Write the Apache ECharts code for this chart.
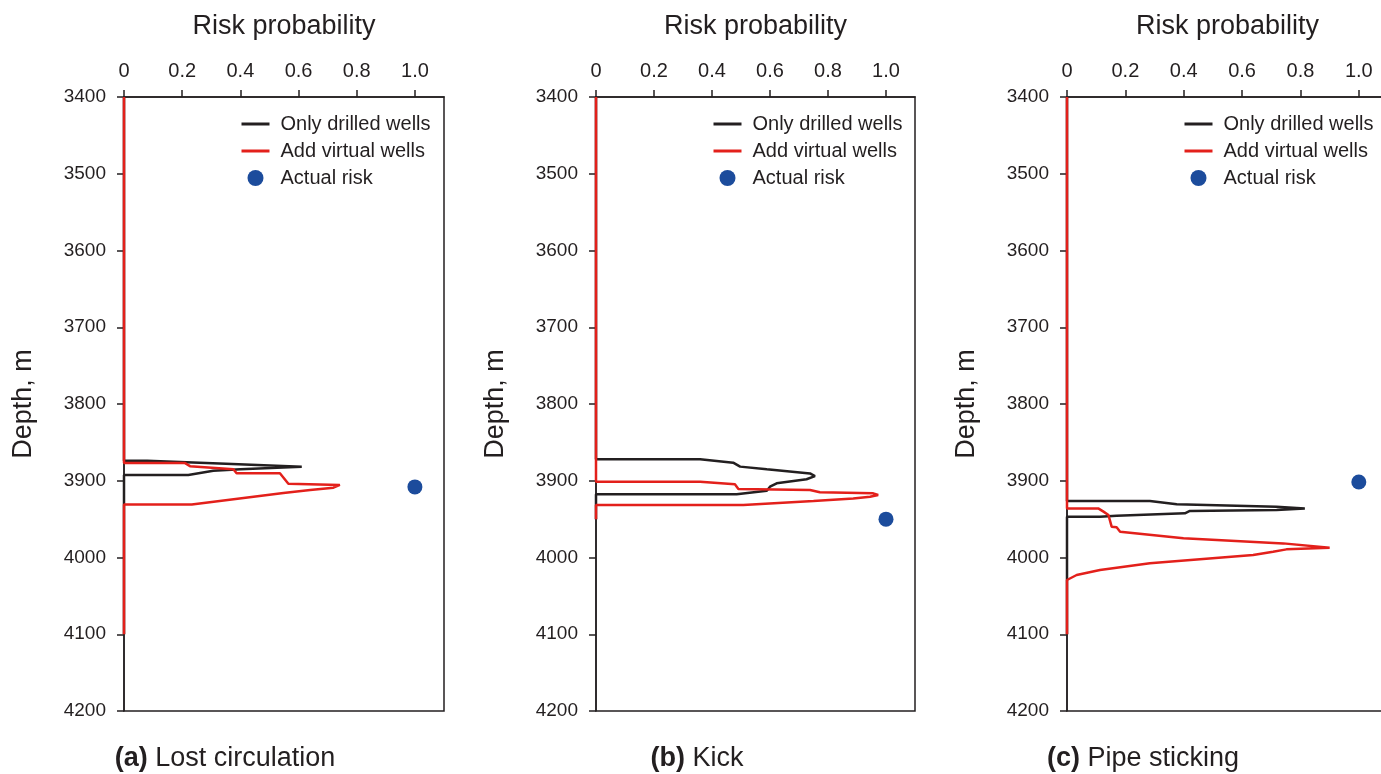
<!DOCTYPE html>
<html lang="en">
<head>
    <meta charset="UTF-8">
    <title>Risk probability</title>
    <script src="https://cdn.jsdelivr.net/npm/echarts@6.0.0/dist/echarts.min.js"></script>
    <style>
        body { margin: 0; background: #fff; }
        #chart { width: 1381px; height: 774px; }
    </style>
</head>
<body>
    <div id="chart"></div>
    <script>
        // [probability, depth] pairs
        const drilledA = [[0, 3400], [0, 3874], [0.08, 3874], [0.35, 3878], [0.611, 3881.6], [0.40, 3885], [0.307, 3887], [0.221, 3892.5], [0, 3892.5], [0, 4100]];
        const virtualA = [[0, 3400], [0, 3877], [0.21, 3877], [0.227, 3881], [0.376, 3885], [0.387, 3890.3], [0.536, 3890.3], [0.565, 3904], [0.742, 3905.5], [0.72, 3909], [0.64, 3912], [0.548, 3916], [0.233, 3931], [0, 3931], [0, 4100]];
        const actualA = [[1.0, 3908]];

        const drilledB = [[0, 3400], [0, 3872], [0.359, 3872], [0.473, 3876.4], [0.497, 3881.6], [0.589, 3885], [0.738, 3890.4], [0.755, 3894], [0.726, 3898], [0.623, 3903.4], [0.6, 3907.7], [0.589, 3913], [0.485, 3917.7], [0, 3917.7], [0, 3950]];
        const virtualB = [[0, 3400], [0, 3901.2], [0.359, 3901.2], [0.479, 3904.7], [0.491, 3910.8], [0.738, 3912], [0.772, 3915], [0.956, 3916.4], [0.973, 3918.6], [0.945, 3920.8], [0.887, 3923], [0.75, 3926.4], [0.508, 3931.6], [0, 3931.6], [0, 3950]];
        const actualB = [[1.0, 3950]];

        const drilledC = [[0, 3400], [0, 3926.4], [0.284, 3926.4], [0.376, 3930.7], [0.718, 3933.8], [0.815, 3936], [0.718, 3938.1], [0.421, 3939.4], [0.404, 3942.4], [0.17, 3945.5], [0.113, 3946.8], [0, 3946.8], [0, 4100]];
        const virtualC = [[0, 3400], [0, 3936], [0.107, 3936], [0.125, 3940.2], [0.142, 3944.6], [0.153, 3959.8], [0.17, 3960.7], [0.182, 3966.4], [0.399, 3975], [0.741, 3981.6], [0.90, 3987.2], [0.752, 3989.4], [0.706, 3992.4], [0.638, 3996.7], [0.284, 4007.6], [0.113, 4016.3], [0.033, 4022.8], [0, 4029.3], [0, 4100]];
        const actualC = [[1.0, 3901.6]];

        const xTicks = [0, 0.2, 0.4, 0.6, 0.8, 1.0];
        const captions = ['(a)', '(b)', '(c)'];
        const captionTexts = ['Lost circulation', 'Kick', 'Pipe sticking'];
        const seriesNames = ['Only drilled wells', 'Add virtual wells', 'Actual risk'];

        const panels = [
            {drilled: drilledA, virtual: virtualA, actual: actualA},
            {drilled: drilledB, virtual: virtualB, actual: actualB},
            {drilled: drilledC, virtual: virtualC, actual: actualC}
        ];

        const INK = '#231f20';
        const RED = '#e3201b';
        const BLUE = '#1c4c9c';
        const FONT = "'Liberation Sans', Arial, sans-serif";

        const gridLefts = [124, 596, 1067];
        const gridWidths = [320, 319, 321];
        const legendLefts = [240, 712, 1183];
        const captionCenters = [225, 697, 1143];

        const grids = [], xAxes = [], yAxes = [], series = [], legends = [], graphics = [];

        panels.forEach((p, i) => {
            grids.push({
                left: gridLefts[i], top: 97, width: gridWidths[i], height: 614,
                outerBoundsMode: 'none', containLabel: false,
                show: true, borderColor: INK, borderWidth: 1.5, backgroundColor: 'transparent'
            });
            xAxes.push({
                gridIndex: i, type: 'value', position: 'top', min: 0, max: 1.1,
                name: 'Risk probability', nameLocation: 'middle', nameGap: 57,
                nameTextStyle: {fontSize: 27, color: INK, fontFamily: FONT},
                axisLine: {lineStyle: {color: INK, width: 1.5}},
                axisTick: {customValues: xTicks, length: 7, lineStyle: {color: INK, width: 1.5}},
                axisLabel: {
                    customValues: xTicks, margin: 16, fontSize: 20, color: INK, fontFamily: FONT,
                    formatter: v => v === 0 ? '0' : v.toFixed(1)
                },
                splitLine: {show: false}
            });
            yAxes.push({
                gridIndex: i, type: 'value', inverse: true, min: 3400, max: 4200, interval: 100,
                name: 'Depth, m', nameLocation: 'middle', nameGap: 87,
                nameTextStyle: {fontSize: 27, color: INK, fontFamily: FONT},
                axisLine: {lineStyle: {color: INK, width: 1.5}},
                axisTick: {length: 7, lineStyle: {color: INK, width: 1.5}},
                axisLabel: {margin: 18, fontSize: 19, color: INK, fontFamily: FONT, formatter: v => String(v)},
                splitLine: {show: false}
            });
            series.push({
                name: seriesNames[0], type: 'line', xAxisIndex: i, yAxisIndex: i,
                data: p.drilled, showSymbol: false, clip: false,
                lineStyle: {color: INK, width: 2.5}, itemStyle: {color: INK}
            });
            series.push({
                name: seriesNames[1], type: 'line', xAxisIndex: i, yAxisIndex: i,
                data: p.virtual, showSymbol: false, clip: false,
                lineStyle: {color: RED, width: 2.5}, itemStyle: {color: RED}
            });
            series.push({
                name: seriesNames[2], type: 'scatter', xAxisIndex: i, yAxisIndex: i,
                data: p.actual, symbolSize: 15, clip: false,
                itemStyle: {color: BLUE, opacity: 1}
            });
            legends.push({
                left: legendLefts[i], top: 114, orient: 'vertical', padding: 0,
                data: [
                    {name: seriesNames[0], itemStyle: {opacity: 0}, lineStyle: {width: 3}},
                    {name: seriesNames[1], itemStyle: {opacity: 0}, lineStyle: {width: 3}},
                    {name: seriesNames[2], icon: 'circle', itemStyle: {color: BLUE, opacity: 1}}
                ],
                itemWidth: 28, itemHeight: 16, itemGap: 7,
                textStyle: {fontSize: 20, color: INK, fontFamily: FONT, lineHeight: 20, padding: [0, 0, 0, 6]},
                selectedMode: false
            });
            graphics.push({
                type: 'text', x: captionCenters[i], y: 759,
                style: {
                    text: '{b|' + captions[i] + '} ' + captionTexts[i],
                    textAlign: 'center', textVerticalAlign: 'middle',
                    font: '27px ' + FONT, fill: INK,
                    rich: {b: {fontWeight: 'bold', fontSize: 27, fontFamily: FONT, fill: INK}}
                }
            });
        });

        const chart = echarts.init(document.getElementById('chart'));
        chart.setOption({
            animation: false,
            backgroundColor: '#fff',
            grid: grids,
            xAxis: xAxes,
            yAxis: yAxes,
            legend: legends,
            series: series,
            graphic: graphics
        });
    </script>
</body>
</html>
